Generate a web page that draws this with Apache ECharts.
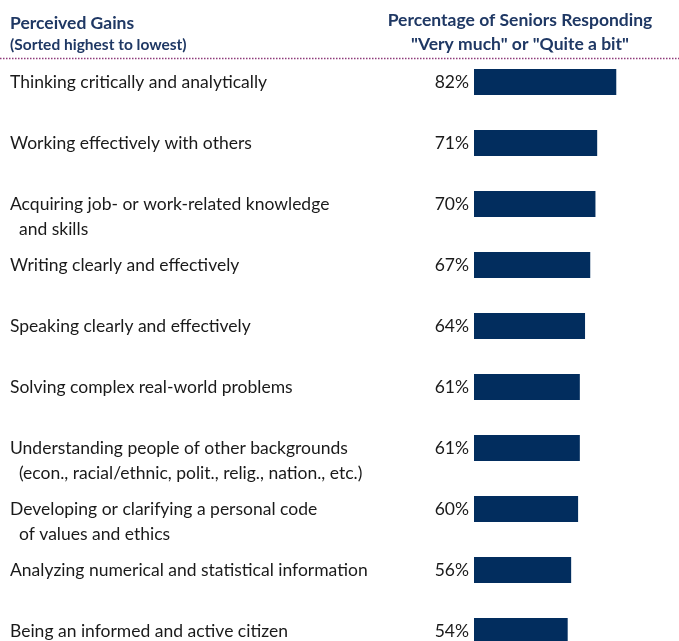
<!DOCTYPE html>
<html>
<head>
<meta charset="utf-8">
<script src="https://cdn.jsdelivr.net/npm/echarts@6/dist/echarts.min.js"></script>
<style>
  html, body { margin: 0; padding: 0; background: #fff; overflow: hidden; }
  /* the last row runs past the bottom edge of the window */
  #chart { width: 679px; height: 680px; }
</style>
</head>
<body>
<div id="chart"></div>
<script>
// Perceived gains, sorted highest to lowest
const categories = [
  'Thinking critically and analytically',
  'Working effectively with others',
  'Acquiring job- or work-related knowledge\n  and skills',
  'Writing clearly and effectively',
  'Speaking clearly and effectively',
  'Solving complex real-world problems',
  'Understanding people of other backgrounds\n  (econ., racial/ethnic, polit., relig., nation., etc.)',
  'Developing or clarifying a personal code\n  of values and ethics',
  'Analyzing numerical and statistical information',
  'Being an informed and active citizen'
];
// Percentage of seniors responding "Very much" or "Quite a bit"
const percentages = [82, 71, 70, 67, 64, 61, 61, 60, 56, 54];

const FONT = 'Lato, "Open Sans", sans-serif';
const NAVY = '#1F3864';
const BAR = '#022D5E';

const chart = echarts.init(document.getElementById('chart'));
chart.setOption({
  animation: false,
  backgroundColor: '#fff',
  graphic: [
    { type: 'text', x: 10, y: 23,
      style: { text: 'Perceived Gains', font: 'bold 17.5px ' + FONT, fill: NAVY, verticalAlign: 'middle' } },
    { type: 'text', x: 10, y: 45,
      style: { text: '(Sorted highest to lowest)', font: 'bold 15.5px ' + FONT, fill: NAVY, verticalAlign: 'middle' } },
    { type: 'text', x: 520, y: 20.5,
      style: { text: 'Percentage of Seniors Responding', font: 'bold 17.5px ' + FONT, fill: NAVY, align: 'center', verticalAlign: 'middle' } },
    { type: 'text', x: 520, y: 44,
      style: { text: '"Very much" or "Quite a bit"', font: 'bold 17.5px ' + FONT, fill: NAVY, align: 'center', verticalAlign: 'middle' } },
    { type: 'line', shape: { x1: 0, y1: 58.5, x2: 679, y2: 58.5 },
      style: { stroke: '#8E3A7A', lineWidth: 1.5, lineDash: [1.5, 1.5] } }
  ],
  grid: { left: 474, top: 51.5, width: 173.5, height: 610, containLabel: false },
  xAxis: {
    type: 'value', min: 0, max: 100, show: false
  },
  yAxis: {
    type: 'category', data: categories, inverse: true,
    axisLine: { show: false }, axisTick: { show: false }, axisLabel: { show: false }
  },
  series: [
    {
      // category names, drawn as labels of an invisible bar sharing each row
      type: 'bar', data: percentages, barWidth: 26, barGap: '-100%', silent: true,
      itemStyle: { color: 'rgba(0,0,0,0)' },
      label: {
        show: true, position: [-464, 0.5], align: 'left', verticalAlign: 'top',
        lineHeight: 25, fontFamily: FONT, fontSize: 17.5, color: '#1a1a1a',
        formatter: p => categories[p.dataIndex]
      }
    },
    {
      type: 'bar', data: percentages, barWidth: 26, barGap: '-100%',
      itemStyle: { color: BAR },
      label: {
        show: true, position: 'left', distance: 5,
        fontFamily: FONT, fontSize: 17.5, color: '#1a1a1a',
        formatter: '{c}%'
      }
    }
  ]
});
</script>
</body>
</html>
